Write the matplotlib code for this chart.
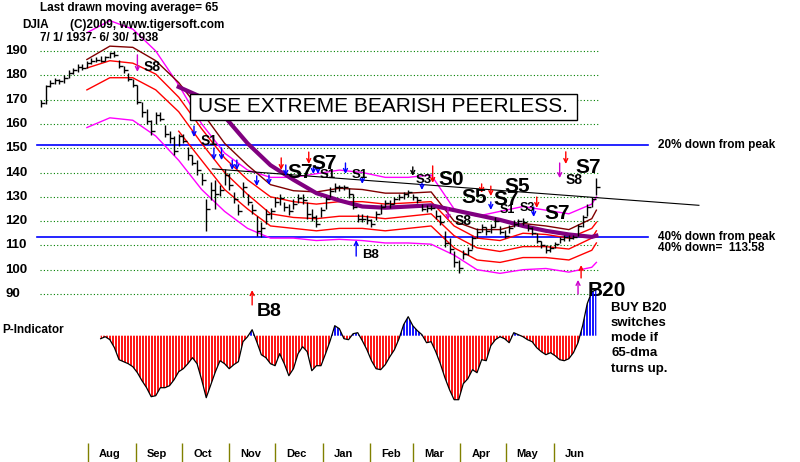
import matplotlib
matplotlib.use('Agg')
import matplotlib.pyplot as plt
import matplotlib.dates as mdates
import matplotlib.transforms as mtransforms
from matplotlib.patches import Rectangle
from matplotlib.path import Path
import numpy as np
import pandas as pd

plt.rcParams['font.family'] = ['Liberation Sans', 'DejaVu Sans']

# DJIA bars, 7/1/1937 - 6/30/1938 (one bar every 3 days)
dates = pd.date_range('1937-07-01', periods=122, freq='3D')
highs = [170, 176, 178, 179, 178.5, 180, 182, 183, 184.5, 184.5,
         186, 187, 187.5, 188, 188, 189.6, 190, 186.5, 184, 181,
         178.5, 176, 169, 166, 161.5, 165, 165, 159.5, 157, 155,
         156, 156, 150.5, 147, 145, 140, 129, 136, 137, 135,
         141.5, 140, 132, 127, 136, 131, 127, 122, 119.5, 125,
         125.5, 130, 131, 128, 127, 129, 131, 131, 128, 125,
         122.5, 126, 130, 134, 135.5, 135, 135, 133.5, 131, 123,
         123, 122.5, 121, 124, 127, 128.7, 128.5, 130, 131, 132,
         133, 131, 130, 127, 126.5, 126.6, 124.5, 122.5, 116, 113,
         107.5, 104, 108, 109.3, 114, 117, 119, 117.6, 119, 121.7,
         118, 116.3, 118.4, 120.5, 121, 121.3, 119, 117.6, 115, 112,
         110, 110, 111.4, 113.5, 114.3, 114.3, 114.3, 119, 122.5, 127,
         130, 137.7]
lows = [167, 168, 175, 176.5, 176.5, 177, 179, 180.5, 181.5, 182,
        183, 184.5, 185.5, 185.5, 186, 187, 187.5, 183, 181, 177.5,
        175, 168, 163, 160, 155.5, 160, 161, 154.5, 152, 147,
        151, 152, 145, 143, 139, 135, 116, 128.7, 125, 130.5,
        135, 133, 127.5, 122.5, 130, 126.5, 123, 114, 113.5, 119,
        121, 126, 126.5, 124, 122.5, 125, 127.5, 127, 121, 120,
        117.5, 121.5, 125, 130, 132, 132.5, 133, 129.5, 125, 119.6,
        119.5, 119, 117.6, 120.5, 123, 126, 125.5, 127, 128.5, 129,
        130, 128.5, 127.5, 124, 123.8, 124.5, 121, 118.5, 109.5, 107,
        101, 98.6, 104.5, 106, 108.5, 113, 115.5, 114.3, 115, 117.6,
        114.5, 113, 115, 117.5, 118, 118.4, 116, 114.3, 111, 109,
        107, 107.3, 109, 111, 112, 112, 112.5, 114, 117.5, 122,
        126, 130.7]
closes = [168.5, 175.5, 177, 178, 177.5, 179, 181, 182, 183.5, 183,
          185, 186, 186.5, 186, 187.5, 189, 188.5, 184, 182, 178.5,
          176, 169, 165, 161, 157, 163.5, 162, 156, 154, 149,
          155, 153, 147, 144, 141, 137, 125, 133, 131, 133,
          139, 135, 129, 124, 134, 128, 124.5, 116, 117, 123,
          124, 128, 129.5, 126, 124, 127, 129.5, 128.5, 123, 121.5,
          119, 124.5, 129, 132.5, 134, 134, 134, 131, 126, 121,
          121, 120.5, 119, 123, 126, 127.5, 127, 129, 130, 131,
          132, 130, 128.5, 125, 125.5, 125.5, 122, 119.5, 111, 108.5,
          103, 100.5, 106.5, 108, 113, 115.5, 117.5, 116, 117.5, 120,
          115.5, 114, 117, 119, 120, 119.5, 117, 115, 112, 110,
          108, 109, 110.5, 112.5, 113.5, 113, 113.5, 118, 121.5, 126,
          129, 134]

# band lines, read every 15 days (bar 10, 15, ... 120, 121)
band_dates = dates[list(range(10, 121, 5)) + [121]]
nan = np.nan
upper_magenta = [197.5, 202.5, 199, 190, 176, 160, 148, 141, 138, 138, 139.5, 141,
                 140, 138, 138, 139, 125, 122, 124, 126, 124.5, 123, 127, 130]
upper_maroon = [186.5, 192, 191.5, 186, 177, 165, 152, 143, 135, 132.5, 132, 133.5,
                133, 131.5, 131.5, 132, 120, 116.5, 116.5, 119, 118, 116.5, 121, 124.5]
upper_red = [183, 186, 185, 180.5, 171, 158, 146, 137, 130, 128, 127, 128,
             128, 127, 127.5, 128, 118, 113, 112, 115, 114.5, 113, 117, 119.5]
mid_red = [174, 179, 179, 174, 165, 152, 140, 131, 123, 121.5, 121, 122,
           122, 121, 122, 123, 114, 109, 107.5, 109.5, 109.5, 108.5, 113, 116]
low_red = [nan, nan, nan, nan, 157, 145, 133, 125, 118, 117, 116, 117,
           117, 116, 117, 118, 109, 104, 103, 105, 105, 104, 108, 111]
lower_magenta = [158.5, 162.5, 161.5, 155, 145, 133, 124, 117, 113, 113, 112, 112.5,
                 112, 111, 111, 110.5, 106, 100, 98.5, 100, 100.5, 99, 101, 103]
ma65 = [nan, nan, nan, nan, 175.2, 171, 163, 152, 143, 137, 131.5, 128.5,
        126, 125.5, 126, 126.5, 124.5, 122.5, 120.5, 118, 116, 114.5, 113.5, 114]

PEAK = 189.3
trend_dates = pd.to_datetime(['1937-10-21', '1938-09-04'])
trend_vals = [141.5, 126.5]

# P-Indicator (from bar 13 on)
p_dates = dates[13:]
p_ind = [-3, -1, -4, -12, -24, -26, -28, -31, -37, -45, -52, -61, -60, -52, -52, -50, -44,
         -36, -33, -28, -22, -28, -44, -62, -49, -36, -25, -28, -33, -29, -26, -6, -1, 6,
         -6, -19, -22, -28, -30, -18, -28, -40, -33, -18, -11, -16, -35, -30, -30, -18, -5,
         10, 7, -3, -4, 2, 3, -5, -14, -25, -33, -34, -29, -21, -14, -3, 11, 19, 10, 5, 1,
         -7, -6, -16, -28, -42, -54, -64, -64, -48, -43, -34, -37, -24, -25, -10, -4, -1,
         -3, -7, 3, 1, -1, -4, -6, -12, -16, -19, -17, -20, -24, -25, -23, -17, -7, 10, 32,
         44, 46]

# signal arrows: date, tail, head, colour
sig_dates = ['1937-09-02', '1937-10-09', '1937-10-22', '1937-10-27', '1937-11-03', '1937-11-06',
             '1937-11-19', '1937-11-27', '1937-12-05', '1937-12-08', '1937-12-23', '1937-12-26',
             '1937-12-29', '1938-01-16', '1938-01-27', '1938-03-01', '1938-03-07', '1938-03-14',
             '1938-03-24', '1938-04-15', '1938-04-21', '1938-04-21', '1938-05-19', '1938-05-21',
             '1938-06-05', '1938-06-09', '1937-11-16', '1938-01-23', '1938-06-17', '1938-06-19']
sig_tail = [188.4, 159.1, 150.1, 150.1, 145.1, 145.1, 138.6, 139.0, 146.0, 143.1, 148.4, 142.3,
            142.3, 143.9, 137.7, 142.3, 135.7, 142.7, 125.4, 135.3, 134.4, 127.9, 125.8, 129.9,
            143.9, 148.5, 85.5, 105.6, 90.0, 96.6]
sig_head = [181.4, 154.6, 145.1, 145.1, 141.0, 141.0, 134.4, 134.9, 141.0, 138.6, 143.5, 139.4,
            139.4, 139.4, 135.3, 138.6, 132.8, 135.7, 120.5, 131.6, 130.3, 124.6, 121.7, 125.4,
            137.7, 143.5, 91.6, 112.2, 95.8, 101.9]
sig_colors = ['#cc00cc', 'b', 'b', 'b', 'b', 'b', 'b', 'b', 'r', 'b', 'r', 'b',
              'b', 'b', 'b', 'k', 'b', 'r', '#cc00cc', 'r', 'r', 'b', 'b', 'r',
              '#cc00cc', 'r', 'r', 'b', '#cc00cc', 'r']

# signal labels: text, date, value, size
lab_text = ['S8', 'S1', 'S7', 'S7', 'S1', 'S1', 'S3', 'S0', 'S8', 'S5', 'S7', 'S5',
            'S1', 'S3', 'S7', 'S8', 'S7', 'B20', 'B8', 'B8']
lab_dates = ['1937-09-06', '1937-10-13', '1937-12-09', '1937-12-25', '1937-12-30', '1938-01-20',
             '1938-03-03', '1938-03-18', '1938-03-28', '1938-04-02', '1938-04-23', '1938-04-30',
             '1938-04-27', '1938-05-10', '1938-05-26', '1938-06-09', '1938-06-15', '1938-06-23',
             '1937-11-19', '1938-01-27']
lab_vals = [183.4, 153.0, 140.2, 143.5, 139.0, 139.0, 136.9, 137.3, 120.0, 129.9, 128.7, 134.4,
            124.6, 125.4, 123.3, 136.9, 141.9, 91.6, 82.6, 106.0]
lab_size = [10, 10, 15, 15, 9.5, 9.5, 9.5, 15, 10, 15, 15, 15, 9, 9, 15, 10, 15, 15, 14, 9.5]

month_names = ['Aug', 'Sep', 'Oct', 'Nov', 'Dec', 'Jan', 'Feb', 'Mar', 'Apr', 'May', 'Jun']
month_starts = pd.date_range('1937-08-01', '1938-06-01', freq='MS')

# ---------------------------------------------------------------------------
W, H = 800, 462
fig = plt.figure(figsize=(8, 4.62), dpi=100)
fig.patch.set_facecolor('white')

d0 = mdates.date2num(pd.Timestamp('1937-07-01'))
ppd = 1.53          # pixels per day
ppu = 2.43          # pixels per index point
xlim = (d0 - 41 / ppd, d0 + (W - 41) / ppd)

ax = fig.add_axes([0, 1 - 330 / H, 1, 330 / H])
top = 190 + 51 / ppu
ax.set_ylim(top - 330 / ppu, top)
ax.set_xlim(*xlim)
ax.axis('off')
ax.patch.set_alpha(0)

axp = fig.add_axes([0, 1 - 430 / H, 1, 150 / H])
axp.set_ylim(335.7 - 430, 335.7 - 280)
axp.set_xlim(*xlim)
axp.axis('off')
axp.patch.set_alpha(0)

ylab = mtransforms.blended_transform_factory(fig.transFigure, ax.transData)
for v in range(90, 200, 10):
    ax.axhline(v, xmin=40 / W, xmax=598 / W, color='#008000', lw=0.8, ls=(0, (1, 2)))
    ax.text(5 / W, v, str(v), transform=ylab, ha='left', va='center',
            fontsize=9.5, fontweight='bold')

for frac in (0.8, 0.6):
    ax.axhline(PEAK * frac, xmin=37 / W, xmax=648 / W, color='#0000ff', lw=1.2)

# bands
ax.plot(band_dates, upper_magenta, color='#ff00ff', lw=1)
ax.plot(band_dates, lower_magenta, color='#ff00ff', lw=1)
ax.plot(band_dates, upper_maroon, color='#800000', lw=1)
ax.plot(band_dates, upper_red, color='#ff0000', lw=1)
ax.plot(band_dates, mid_red, color='#ff0000', lw=1)
ax.plot(band_dates, low_red, color='#ff0000', lw=1)
ax.plot(band_dates, ma65, color='#800080', lw=3)
ax.plot(trend_dates, trend_vals, color='black', lw=0.8)

# price bars
ax.vlines(dates, lows, highs, color='black', lw=1)
ax.plot(dates, closes, ls='none', marker=1, ms=3, mew=1, color='black')

for d, t, h, c in zip(sig_dates, sig_tail, sig_head, sig_colors):
    x = pd.Timestamp(d)
    ax.annotate('', xy=(x, h), xytext=(x, t), annotation_clip=False,
                arrowprops=dict(arrowstyle='->', color=c, lw=1, shrinkA=0, shrinkB=0,
                                mutation_scale=7))
for s, d, v, fs in zip(lab_text, lab_dates, lab_vals, lab_size):
    ax.text(pd.Timestamp(d), v, s, fontsize=fs, fontweight='bold', ha='left',
            va='center', clip_on=False)

# P-Indicator: vertical stripes (one every 3 px) clipped to the area under the curve
p = np.array(p_ind, dtype=float)
pnum = mdates.date2num(p_dates)
stripe_x = np.arange(pnum[0], pnum[-1], 3 / ppd)
for mask, col in ((p <= 0, '#ff0000'), (p >= 0, '#0000ff')):
    area = axp.fill_between(p_dates, p, 0, where=mask, interpolate=True,
                            facecolor='none', edgecolor='none')
    clip = Path.make_compound_path(*area.get_paths())
    stripes = axp.vlines(stripe_x, -95, 56, color=col, lw=1.3)
    stripes.set_clip_path(clip, axp.transData)
axp.plot(p_dates, p, color='black', lw=0.9)

# month strip
mt = mtransforms.blended_transform_factory(axp.transData, fig.transFigure)
axp.vlines(month_starts, 0, 19 / H, transform=mt, color='#808000', lw=1, clip_on=False)
for m, name in zip(month_starts, month_names):
    axp.text(m + pd.Timedelta(days=14), 8 / H, name, transform=mt, ha='center',
             va='center', fontsize=8, fontweight='bold', clip_on=False)

# header and notes
fig.text(40 / W, 1 - 8 / H, 'Last drawn moving average= 65', fontsize=8.5,
         fontweight='bold', va='center')
fig.text(22 / W, 1 - 25 / H, 'DJIA', fontsize=8.5, fontweight='bold', va='center')
fig.text(70 / W, 1 - 25 / H, '(C)2009, www.tigersoft.com', fontsize=8.5,
         fontweight='bold', va='center')
fig.text(40 / W, 1 - 38 / H, '7/ 1/ 1937- 6/ 30/ 1938', fontsize=8.5,
         fontweight='bold', va='center')

fig.patches.append(Rectangle((190 / W, 1 - 120 / H), 387 / W, 26 / H,
                             transform=fig.transFigure, facecolor='white',
                             edgecolor='black', lw=1, zorder=5))
fig.text(383 / W, 1 - 107 / H, 'USE EXTREME BEARISH PEERLESS.', fontsize=15,
         ha='center', va='center', zorder=6)

fig.text(658 / W, 1 - 145 / H, '20% down from peak', fontsize=8.5, fontweight='bold',
         va='center')
fig.text(658 / W, 1 - 237 / H, '40% down from peak', fontsize=8.5, fontweight='bold',
         va='center')
fig.text(658 / W, 1 - 248 / H, '40% down=  ' + format(PEAK * 0.6, '.2f'), fontsize=8.5,
         fontweight='bold', va='center')
fig.text(2 / W, 1 - 330 / H, 'P-Indicator', fontsize=8.5, fontweight='bold', va='center')
fig.text(611 / W, 1 - 302 / H, 'BUY B20\nswitches\nmode if\n65-dma\nturns up.',
         fontsize=9.5, fontweight='bold', va='top', linespacing=1.35)

fig.savefig('out.png', dpi=100)
